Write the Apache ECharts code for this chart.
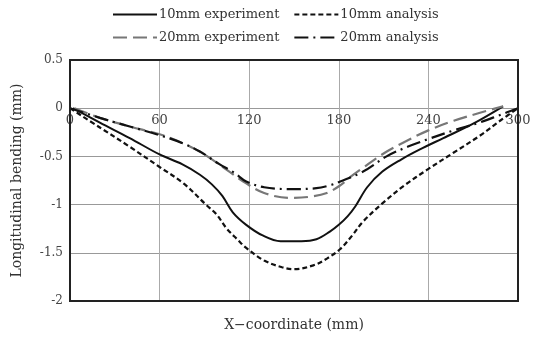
<!DOCTYPE html>
<html><head><meta charset="utf-8">
<script src="https://cdn.jsdelivr.net/npm/echarts@6/dist/echarts.min.js"></script>
<style>html,body{margin:0;padding:0;background:#fff}#c{width:539px;height:341px}</style>
</head><body><div id="c"></div>
<script>
const seriesNames = ['10mm experiment', '10mm analysis', '20mm experiment', '20mm analysis'];
const xTicks = [0, 60, 120, 180, 240, 300];
const yTicks = [-2, -1.5, -1, -0.5, 0, 0.5];
const exp10 = [[2,0],[20,-0.15],[40,-0.31],[60,-0.48],[75,-0.58],[87,-0.69],[95,-0.79],[102,-0.91],[109,-1.08],[118,-1.21],[129,-1.32],[141,-1.38],[155,-1.38],[165,-1.36],[174,-1.28],[180,-1.21],[186,-1.12],[191,-1.02],[199,-0.82],[209,-0.66],[222,-0.53],[234,-0.43],[250,-0.31],[270,-0.16],[290,0.02]];
const ana10 = [[0,0],[20,-0.2],[40,-0.4],[60,-0.61],[76,-0.78],[91,-1.0],[98,-1.1],[105,-1.25],[112,-1.36],[118,-1.45],[130,-1.58],[142,-1.65],[150,-1.67],[163,-1.63],[172,-1.56],[181,-1.46],[189,-1.32],[196,-1.18],[209,-0.99],[224,-0.8],[239,-0.64],[257,-0.46],[274,-0.29],[288,-0.13],[300,0]];
const exp20 = [[3,0],[20,-0.1],[40,-0.19],[60,-0.27],[75,-0.36],[89,-0.47],[105,-0.64],[118,-0.78],[130,-0.88],[147,-0.93],[160,-0.92],[172,-0.88],[181,-0.80],[188,-0.71],[196,-0.62],[210,-0.47],[224,-0.35],[240,-0.23],[257,-0.13],[274,-0.05],[290,0.02]];
const ana20 = [[0,0],[20,-0.1],[40,-0.19],[60,-0.28],[75,-0.36],[87,-0.45],[100,-0.58],[110,-0.67],[118,-0.76],[130,-0.82],[148,-0.84],[165,-0.83],[174,-0.8],[181,-0.76],[196,-0.66],[212,-0.5],[226,-0.4],[240,-0.32],[257,-0.23],[274,-0.15],[288,-0.07],[300,0]];

const font = 'DejaVu Serif, Liberation Serif, serif';
const chart = echarts.init(document.getElementById('c'), null, {renderer: 'canvas'});
function mk(name, data, color, type, width) {
  return {
    name: name, type: 'line', data: data, smooth: 0.35, showSymbol: false, symbol: 'none',
    lineStyle: {color: color, type: type, width: width},
    itemStyle: {color: color},
    z: 3
  };
}
const legendCommon = {
  left: 107, itemWidth: 44, itemHeight: 10, itemGap: 14,
  itemStyle: {opacity: 0},
  textStyle: {fontFamily: font, fontSize: 13, color: '#333', padding: [0,0,0,-3]}
};
const gridTop = 60, gridBottom = 40, chartH = 341;
const plotH = chartH - gridTop - gridBottom;
const zeroOffset = -plotH * (0 - yTicks[0]) / (yTicks[yTicks.length-1] - yTicks[0]);
chart.setOption({
  animation: false,
  backgroundColor: '#fff',
  legend: [
    Object.assign({}, legendCommon, {top: 3, data: [seriesNames[0], seriesNames[1]]}),
    Object.assign({}, legendCommon, {top: 26, data: [seriesNames[2], seriesNames[3]]})
  ],
  grid: {left: 70, right: 21, top: gridTop, bottom: gridBottom, show: true, borderColor: '#222', borderWidth: 2,
    backgroundColor: 'transparent', containLabel: false, outerBoundsMode: 'none', z: 5},
  xAxis: {
    type: 'value', min: xTicks[0], max: xTicks[xTicks.length-1], interval: 60,
    position: 'bottom', offset: zeroOffset,
    axisLine: {show: false, onZero: false},
    axisTick: {show: false},
    splitLine: {show: true, showMinLine: false, showMaxLine: false, lineStyle: {color: '#aaa', width: 1}},
    axisLabel: {fontFamily: font, fontSize: 13, color: '#444', margin: 6,
      formatter: v => xTicks.includes(v) ? String(v) : ''},
    name: 'X−coordinate (mm)', nameLocation: 'middle', nameGap: 210,
    nameTextStyle: {fontFamily: font, fontSize: 14, color: '#333'}
  },
  yAxis: {
    type: 'value', min: yTicks[0], max: yTicks[yTicks.length-1], interval: 0.5,
    axisLine: {show: true, onZero: false, lineStyle: {color: '#222', width: 2}},
    axisTick: {show: false},
    splitLine: {show: true, showMinLine: false, showMaxLine: false, lineStyle: {color: '#999', width: 1}},
    axisLabel: {fontFamily: font, fontSize: 12, color: '#444', margin: 7,
      formatter: v => String(v)},
    name: 'Longitudinal bending (mm)', nameLocation: 'middle', nameGap: 46, nameRotate: 90,
    nameTextStyle: {fontFamily: font, fontSize: 14, color: '#333'}
  },
  series: [
    mk(seriesNames[0], exp10, '#111', 'solid', 2),
    mk(seriesNames[1], ana10, '#111', [5, 3], 2.2),
    mk(seriesNames[2], exp20, '#777', [14, 6], 2.2),
    mk(seriesNames[3], ana20, '#111', [14, 5, 2, 5], 2.2)
  ]
});
</script></body></html>
